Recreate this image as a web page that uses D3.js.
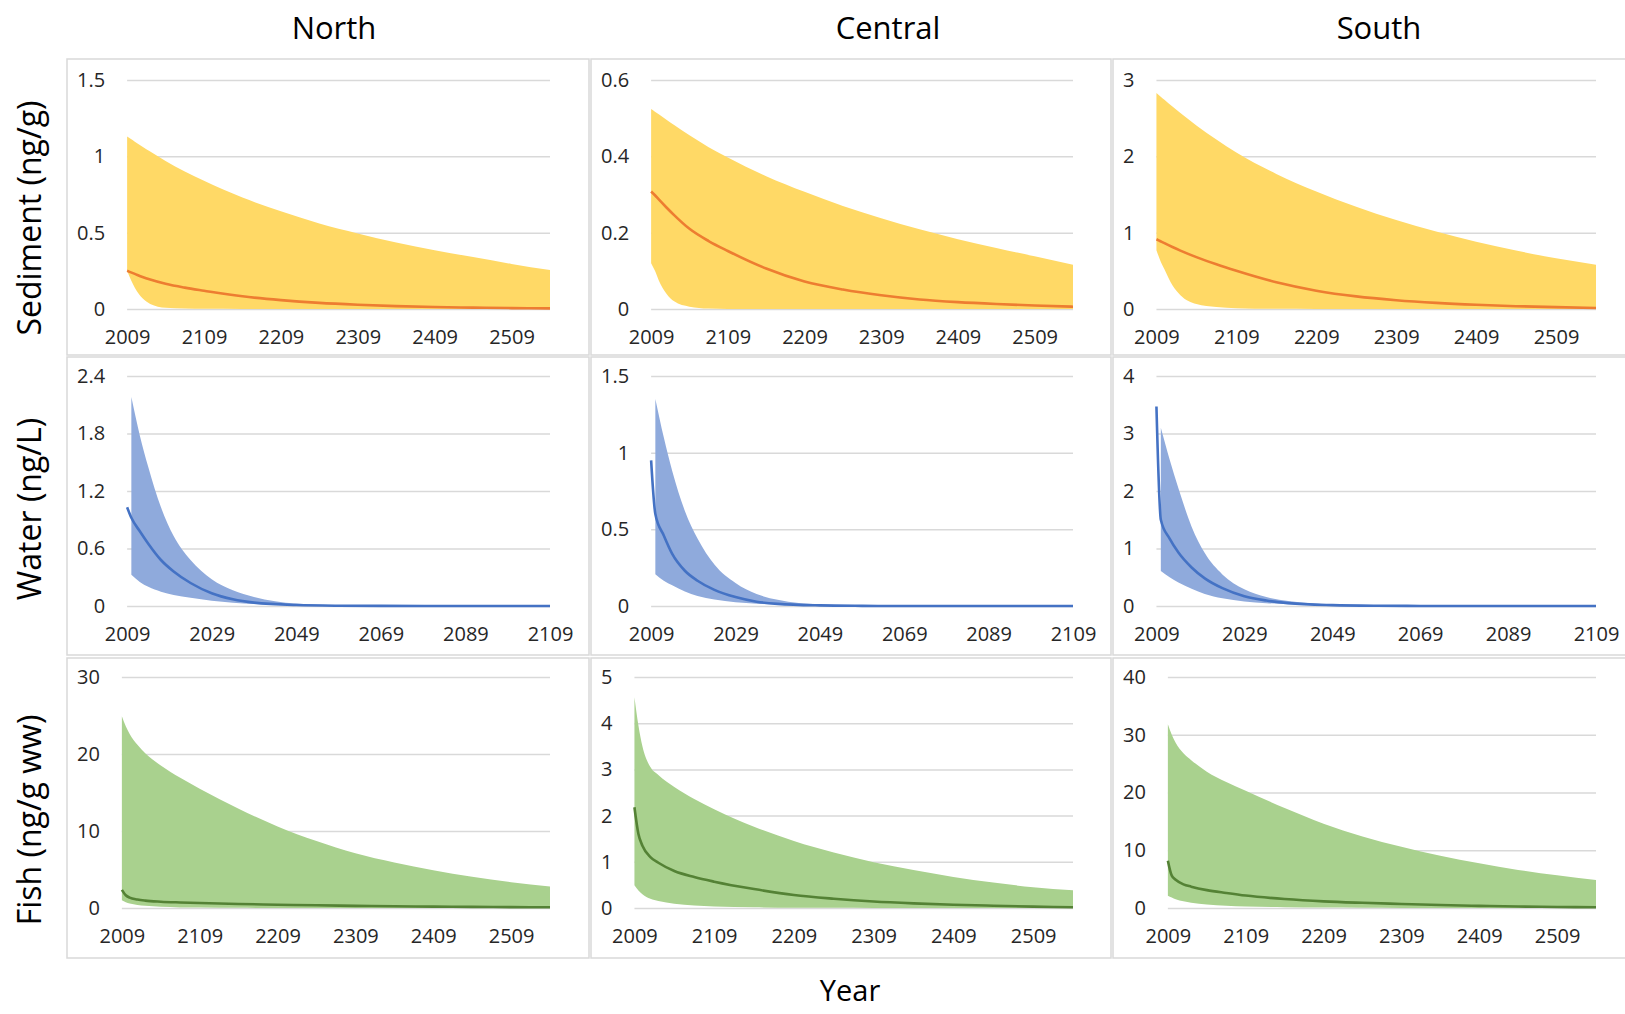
<!DOCTYPE html>
<html>
<head>
<meta charset="utf-8">
<script src="https://cdn.jsdelivr.net/npm/d3@7"></script>
<style>
  body { margin: 0; background: #fff; }
  svg text { font-family: 'Open Sans', sans-serif; }
</style>
</head>
<body>
<svg id="chart" width="1625" height="1014"></svg>
<script>
/* ------------ Data ----------------*/
const regions = ['North', 'Central', 'South'];
const media = ['Sediment (ng/g)', 'Water (ng/L)', 'Fish (ng/g ww)'];

const longYears = [2009, 2014, 2019, 2029, 2039, 2059, 2084, 2109, 2159, 2209, 2259, 2309, 2359, 2409, 2459, 2509, 2559];
const waterYears = [2009, 2010, 2012, 2014, 2017, 2020, 2024, 2029, 2034, 2039, 2049, 2059, 2069, 2089, 2109];

const longTicks = [2009, 2109, 2209, 2309, 2409, 2509];
const waterTicks = [2009, 2029, 2049, 2069, 2089, 2109];

const sedNorthTicks = [0, 0.5, 1, 1.5];
const sedCentralTicks = [0, 0.2, 0.4, 0.6];
const sedSouthTicks = [0, 1, 2, 3];
const waterNorthTicks = [0, 0.6, 1.2, 1.8, 2.4];
const waterCentralTicks = [0, 0.5, 1, 1.5];
const waterSouthTicks = [0, 1, 2, 3, 4];
const fishNorthTicks = [0, 10, 20, 30];
const fishCentralTicks = [0, 1, 2, 3, 4, 5];
const fishSouthTicks = [0, 10, 20, 30, 40];

// sediment (longYears)
const sedNorthUpper = [1.13, 1.113, 1.096, 1.063, 1.031, 0.97, 0.90, 0.84, 0.73, 0.64, 0.56, 0.495, 0.435, 0.385, 0.34, 0.295, 0.255];
const sedNorthMean = [0.25, 0.24, 0.23, 0.21, 0.193, 0.165, 0.14, 0.12, 0.083, 0.058, 0.04, 0.028, 0.019, 0.013, 0.009, 0.006, 0.004];
const sedNorthLower = [0.25, 0.19, 0.14, 0.07, 0.033, 0.008, 0.003, 0.001, 0, 0, 0, 0, 0, 0, 0, 0, 0];

const sedCentralUpper = [0.524, 0.517, 0.51, 0.496, 0.482, 0.455, 0.424, 0.397, 0.348, 0.307, 0.27, 0.238, 0.209, 0.183, 0.16, 0.138, 0.116];
const sedCentralMean = [0.308, 0.298, 0.287, 0.266, 0.246, 0.21, 0.178, 0.152, 0.106, 0.072, 0.051, 0.036, 0.025, 0.018, 0.013, 0.009, 0.006];
const sedCentralLower = [0.12, 0.10, 0.075, 0.04, 0.02, 0.006, 0.001, 0, 0, 0, 0, 0, 0, 0, 0, 0, 0];

const sedSouthUpper = [2.83, 2.785, 2.74, 2.652, 2.567, 2.405, 2.22, 2.05, 1.77, 1.54, 1.34, 1.165, 1.015, 0.88, 0.765, 0.665, 0.58];
const sedSouthMean = [0.914, 0.888, 0.862, 0.812, 0.765, 0.68, 0.585, 0.50, 0.35, 0.24, 0.165, 0.115, 0.08, 0.055, 0.037, 0.024, 0.014];
const sedSouthLower = [0.77, 0.63, 0.52, 0.31, 0.18, 0.065, 0.025, 0.01, 0.002, 0, 0, 0, 0, 0, 0, 0, 0];

// water (waterYears) - band starts one year after the line
const waterNorthUpper = [null, 2.18, 1.78, 1.45, 1.03, 0.73, 0.48, 0.28, 0.165, 0.095, 0.025, 0.007, 0.002, 0, 0];
const waterNorthMean = [1.03, 0.92, 0.78, 0.65, 0.48, 0.36, 0.24, 0.133, 0.07, 0.035, 0.01, 0.003, 0.001, 0, 0];
const waterNorthLower = [null, 0.325, 0.25, 0.2, 0.15, 0.115, 0.085, 0.055, 0.035, 0.022, 0.009, 0.003, 0.001, 0, 0];

const waterCentralUpper = [null, 1.35, 1.10, 0.88, 0.62, 0.44, 0.27, 0.15, 0.078, 0.04, 0.01, 0.003, 0.001, 0, 0];
const waterCentralMean = [0.95, 0.60, 0.46, 0.34, 0.23, 0.165, 0.105, 0.058, 0.028, 0.014, 0.004, 0.001, 0, 0, 0];
const waterCentralLower = [null, 0.207, 0.165, 0.135, 0.095, 0.065, 0.042, 0.025, 0.015, 0.009, 0.003, 0.001, 0, 0, 0];

const waterSouthUpper = [null, 3.10, 2.55, 2.05, 1.38, 0.92, 0.55, 0.29, 0.155, 0.085, 0.025, 0.007, 0.002, 0, 0];
const waterSouthMean = [3.47, 1.5, 1.17, 0.93, 0.67, 0.48, 0.31, 0.17, 0.095, 0.05, 0.015, 0.004, 0.001, 0, 0];
const waterSouthLower = [null, 0.61, 0.50, 0.41, 0.30, 0.21, 0.135, 0.08, 0.05, 0.03, 0.01, 0.003, 0.001, 0, 0];

// fish (longYears)
const fishNorthUpper = [24.9, 23.6, 22.6, 21.2, 20.1, 18.5, 16.9, 15.5, 12.9, 10.6, 8.7, 7.1, 5.9, 4.9, 4.05, 3.35, 2.8];
const fishNorthMean = [2.35, 1.65, 1.35, 1.1, 0.96, 0.82, 0.72, 0.64, 0.52, 0.43, 0.35, 0.28, 0.22, 0.18, 0.14, 0.11, 0.09];
const fishNorthLower = [1.0, 0.75, 0.6, 0.4, 0.28, 0.15, 0.08, 0.05, 0.02, 0.01, 0.005, 0.003, 0.002, 0.001, 0, 0, 0];

const fishCentralUpper = [4.56, 3.95, 3.5, 3.05, 2.88, 2.62, 2.36, 2.14, 1.76, 1.45, 1.2, 0.99, 0.82, 0.67, 0.55, 0.45, 0.385];
const fishCentralMean = [2.18, 1.6, 1.35, 1.1, 0.98, 0.8, 0.67, 0.57, 0.41, 0.28, 0.2, 0.14, 0.1, 0.07, 0.05, 0.03, 0.015];
const fishCentralLower = [0.49, 0.38, 0.3, 0.2, 0.15, 0.09, 0.055, 0.035, 0.015, 0.007, 0.003, 0.001, 0, 0, 0, 0, 0];

const fishSouthUpper = [31.8, 30.0, 28.6, 26.8, 25.6, 23.6, 21.8, 20.3, 17.3, 14.6, 12.4, 10.6, 9.05, 7.75, 6.6, 5.65, 4.85];
const fishSouthMean = [8.2, 5.6, 4.9, 4.1, 3.7, 3.1, 2.6, 2.15, 1.55, 1.15, 0.9, 0.7, 0.52, 0.37, 0.25, 0.18, 0.12];
const fishSouthLower = [2.13, 1.8, 1.5, 1.15, 0.9, 0.6, 0.4, 0.28, 0.14, 0.07, 0.035, 0.018, 0.009, 0.005, 0, 0, 0];

/* ------------ Layout ----------------*/
const bandColors = ['#FFD966', '#8FAADC', '#A9D18E'];
const lineColors = ['#ED7D31', '#4472C4', '#548235'];

const colBoxLeft = [67, 591, 1113];
const colBoxRight = [589, 1111, 1640];
const plotRight = [550, 1073, 1596];
const rowBoxTop = [59, 357, 658];
const rowBoxBottom = [355, 655, 958];
const rowTop = [80, 376, 677];
const rowZero = [309, 606, 908];

const panels = [
  { row: 0, col: 0, years: longYears, upper: sedNorthUpper, mean: sedNorthMean, lower: sedNorthLower, yTicks: sedNorthTicks, xTicks: longTicks },
  { row: 0, col: 1, years: longYears, upper: sedCentralUpper, mean: sedCentralMean, lower: sedCentralLower, yTicks: sedCentralTicks, xTicks: longTicks },
  { row: 0, col: 2, years: longYears, upper: sedSouthUpper, mean: sedSouthMean, lower: sedSouthLower, yTicks: sedSouthTicks, xTicks: longTicks },
  { row: 1, col: 0, years: waterYears, upper: waterNorthUpper, mean: waterNorthMean, lower: waterNorthLower, yTicks: waterNorthTicks, xTicks: waterTicks },
  { row: 1, col: 1, years: waterYears, upper: waterCentralUpper, mean: waterCentralMean, lower: waterCentralLower, yTicks: waterCentralTicks, xTicks: waterTicks },
  { row: 1, col: 2, years: waterYears, upper: waterSouthUpper, mean: waterSouthMean, lower: waterSouthLower, yTicks: waterSouthTicks, xTicks: waterTicks },
  { row: 2, col: 0, years: longYears, upper: fishNorthUpper, mean: fishNorthMean, lower: fishNorthLower, yTicks: fishNorthTicks, xTicks: longTicks },
  { row: 2, col: 1, years: longYears, upper: fishCentralUpper, mean: fishCentralMean, lower: fishCentralLower, yTicks: fishCentralTicks, xTicks: longTicks },
  { row: 2, col: 2, years: longYears, upper: fishSouthUpper, mean: fishSouthMean, lower: fishSouthLower, yTicks: fishSouthTicks, xTicks: longTicks }
];

const svg = d3.select('#chart');

/* ------------ Functions ----------------*/
const labelWidth = (ticks) => {
  const probe = svg.append('text')
    .attr('font-size', 20)
    .style('font-family', "'Open Sans', sans-serif");
  let w = 0;
  ticks.forEach(t => {
    probe.text(String(t));
    w = Math.max(w, probe.node().getComputedTextLength());
  });
  probe.remove();
  return w;
};

const drawPanel = (p) => {
  svg.append('rect')
    .attr('class', 'panelBox')
    .attr('x', colBoxLeft[p.col])
    .attr('y', rowBoxTop[p.row])
    .attr('width', colBoxRight[p.col] - colBoxLeft[p.col])
    .attr('height', rowBoxBottom[p.row] - rowBoxTop[p.row])
    .attr('fill', '#fff')
    .attr('stroke', '#d9d9d9')
    .attr('stroke-width', 1.5);

  const left = colBoxLeft[p.col] + 10 + labelWidth(p.yTicks) + 22;
  const right = plotRight[p.col];

  const x = d3.scaleLinear()
    .domain(d3.extent(p.years))
    .range([left, right]);
  const y = d3.scaleLinear()
    .domain([0, d3.max(p.yTicks)])
    .range([rowZero[p.row], rowTop[p.row]]);

  const yAxis = svg.append('g')
    .attr('transform', `translate(${left},0)`)
    .call(d3.axisLeft(y).tickValues(p.yTicks).tickFormat(d => String(d))
      .tickSize(-(right - left)).tickPadding(22));
  yAxis.select('.domain').remove();
  yAxis.selectAll('line').attr('stroke', '#d9d9d9').attr('stroke-width', 1.5);
  yAxis.selectAll('text')
    .attr('font-size', 20)
    .attr('fill', '#262626')
    .style('font-family', "'Open Sans', sans-serif");

  const xAxis = svg.append('g')
    .attr('transform', `translate(0,${rowZero[p.row]})`)
    .call(d3.axisBottom(x).tickValues(p.xTicks).tickFormat(d => String(d))
      .tickSize(0).tickPadding(21));
  xAxis.select('.domain').remove();
  xAxis.selectAll('text')
    .attr('font-size', 20)
    .attr('fill', '#262626')
    .style('font-family', "'Open Sans', sans-serif");

  const rows = p.years.map((year, i) => ({
    year: year, hi: p.upper[i], mid: p.mean[i], lo: p.lower[i]
  }));

  const band = d3.area()
    .defined(d => d.hi != null && d.lo != null)
    .x(d => x(d.year))
    .y0(d => y(d.lo))
    .y1(d => y(d.hi))
    .curve(d3.curveMonotoneX);

  const line = d3.line()
    .x(d => x(d.year))
    .y(d => y(d.mid))
    .curve(d3.curveMonotoneX);

  svg.append('path')
    .datum(rows)
    .attr('class', 'band')
    .attr('d', band)
    .attr('fill', bandColors[p.row])
    .attr('stroke', 'none');

  svg.append('path')
    .datum(rows)
    .attr('class', 'mean')
    .attr('d', line)
    .attr('fill', 'none')
    .attr('stroke', lineColors[p.row])
    .attr('stroke-width', 2.6)
    .attr('stroke-linejoin', 'round');
};

/* ------------ Draw ----------------*/
panels.forEach(drawPanel);

const titleX = [334, 888, 1379];
regions.forEach((r, i) => {
  svg.append('text')
    .attr('x', titleX[i])
    .attr('y', 39)
    .attr('text-anchor', 'middle')
    .attr('font-size', 31)
    .attr('fill', '#000')
    .text(r);
});

const mediaY = [218, 509, 820];
media.forEach((m, i) => {
  svg.append('text')
    .attr('transform', `translate(41,${mediaY[i]}) rotate(-90)`)
    .attr('text-anchor', 'middle')
    .attr('font-size', 32)
    .attr('fill', '#000')
    .text(m);
});

svg.append('text')
  .attr('x', 850)
  .attr('y', 1001)
  .attr('text-anchor', 'middle')
  .attr('font-size', 29)
  .attr('fill', '#000')
  .text('Year');
</script>
</body>
</html>
